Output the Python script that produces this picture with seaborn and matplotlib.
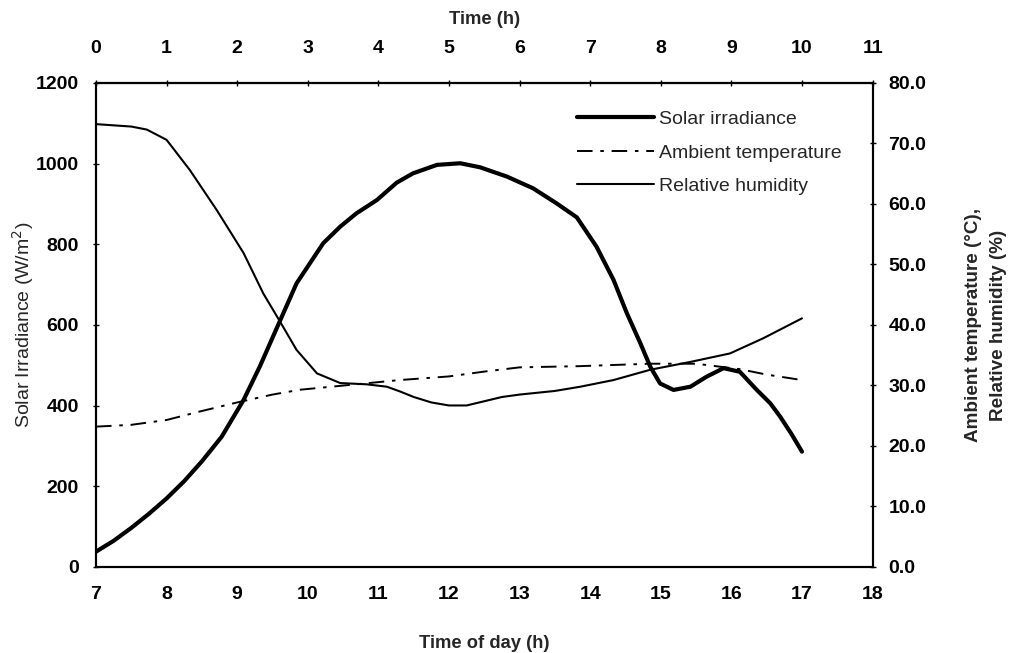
import numpy as np
import pandas as pd
import seaborn as sns
import matplotlib
matplotlib.use("Agg")
import matplotlib.pyplot as plt

# Solar irradiance (W/m2) against time of day (h)
solar_hours = [7.0, 7.25, 7.5, 7.75, 8.0, 8.25, 8.5, 8.78, 9.09, 9.32, 9.6, 9.84,
               10.03, 10.22, 10.46, 10.69, 10.98, 11.26, 11.49, 11.83, 12.16, 12.44,
               12.82, 13.19, 13.52, 13.81, 14.09, 14.33, 14.52, 14.71, 14.85, 14.99,
               15.18, 15.42, 15.65, 15.89, 16.12, 16.36, 16.55, 16.69, 16.85, 17.0]
solar_irradiance = [38, 65, 97, 132, 170, 213, 262, 323, 414, 497, 608, 703,
                    753, 803, 844, 877, 910, 953, 976, 997, 1001, 991,
                    968, 939, 902, 867, 794, 712, 629, 555, 497, 455,
                    439, 447, 472, 493, 484, 439, 406, 373, 330, 286]

# Ambient temperature (degC)
temp_hours = [7.0, 7.5, 8.0, 8.47, 9.0, 9.5, 9.89, 10.6, 11.3, 12.0, 12.5,
              13.0, 13.86, 14.85, 15.5, 16.12, 16.5, 17.0]
ambient_temp = [23.2, 23.5, 24.3, 25.7, 27.2, 28.5, 29.3, 30.1, 30.9, 31.5, 32.3,
                33.0, 33.2, 33.6, 33.6, 32.7, 31.8, 30.9]

# Relative humidity (%)
rh_hours = [7.0, 7.5, 7.72, 8.0, 8.33, 8.71, 9.09, 9.37, 9.61, 9.84, 10.13, 10.46,
            10.83, 11.12, 11.31, 11.5, 11.75, 12.0, 12.25, 12.5, 12.75, 13.0,
            13.5, 13.86, 14.33, 14.85, 15.42, 15.98, 16.45, 17.0]
rel_humidity = [73.2, 72.8, 72.3, 70.6, 65.6, 59.0, 51.9, 45.2, 40.5, 35.9, 32.0, 30.4,
                30.2, 29.8, 29.0, 28.1, 27.2, 26.7, 26.7, 27.4, 28.1, 28.5,
                29.1, 29.8, 30.9, 32.6, 33.9, 35.3, 37.8, 41.1]

left_ticks = [0, 200, 400, 600, 800, 1000, 1200]
right_ticks = [0, 10, 20, 30, 40, 50, 60, 70, 80]
bottom_ticks = list(range(7, 19))
top_ticks = list(range(0, 12))

sns.set_theme(style="white")
plt.rcParams["font.family"] = ["Liberation Sans", "DejaVu Sans"]
plt.rcParams["axes.linewidth"] = 1.5

fig = plt.figure(figsize=(10.17, 6.53), dpi=100)
ax = fig.add_axes([0.0944, 0.1317, 0.7636, 0.7412])
ax2 = ax.twinx()

solar_df = pd.DataFrame({"h": solar_hours, "v": solar_irradiance})
temp_df = pd.DataFrame({"h": temp_hours, "v": ambient_temp})
rh_df = pd.DataFrame({"h": rh_hours, "v": rel_humidity})

sns.lineplot(data=solar_df, x="h", y="v", ax=ax, color="black", lw=3.0, legend=False)
sns.lineplot(data=temp_df, x="h", y="v", ax=ax2, color="black", lw=1.4, legend=False)
sns.lineplot(data=rh_df, x="h", y="v", ax=ax2, color="black", lw=1.5, legend=False)

solar_line = ax.get_lines()[0]
temp_line, rh_line = ax2.get_lines()[:2]
temp_line.set_dashes([8, 4, 1.8, 4])
for ln in (solar_line, temp_line, rh_line):
    ln.set_solid_joinstyle("round")

ax.set_xlim(7, 18)
ax.set_ylim(0, 1200)
ax2.set_ylim(0, 80)
ax.set_xticks(bottom_ticks)
ax.set_yticks(left_ticks)
ax2.set_yticks(right_ticks)
ax2.set_yticklabels([f"{t:.1f}" for t in right_ticks])

for spine in list(ax.spines.values()) + list(ax2.spines.values()):
    spine.set_color("black")
    spine.set_linewidth(1.5)

TICK_FS = 14
ax.tick_params(axis="both", direction="inout", length=5, width=1, colors="black")
ax.tick_params(axis="x", pad=11)
ax.tick_params(axis="y", pad=10)
ax2.tick_params(axis="y", direction="inout", length=5, width=1, colors="black", pad=9)
for lab in ax.get_xticklabels() + ax.get_yticklabels() + ax2.get_yticklabels():
    lab.set_fontsize(TICK_FS)
    lab.set_fontweight("bold")

top = ax.secondary_xaxis("top", functions=(lambda x: x - 7, lambda x: x + 7))
top.set_xticks(top_ticks)
top.tick_params(axis="x", direction="inout", length=5, width=1, colors="black", pad=16)
for lab in top.get_xticklabels():
    lab.set_fontsize(TICK_FS)
    lab.set_fontweight("bold")
top.set_xlabel("Time (h)", fontsize=13.2, fontweight="bold", labelpad=12)

ax.set_xlabel("Time of day (h)", fontsize=13.2, fontweight="bold", labelpad=23)
ax.set_ylabel("Solar Irradiance (W/m$^2$)", fontsize=14, labelpad=0)
ax2.set_ylabel("Ambient temperature (°C),\nRelative humidity (%)", fontsize=13.6,
               fontweight="bold", labelpad=28, linespacing=1.6)

ax2.legend([solar_line, temp_line, rh_line],
           ["Solar irradiance", "Ambient temperature", "Relative humidity"],
           loc="upper left", bbox_to_anchor=(0.567, 0.831),
           bbox_transform=fig.transFigure, frameon=False, fontsize=14,
           handlelength=4.0, handletextpad=0.26, labelspacing=0.82,
           borderpad=0, borderaxespad=0)

fig.savefig("out.png", dpi=100)
